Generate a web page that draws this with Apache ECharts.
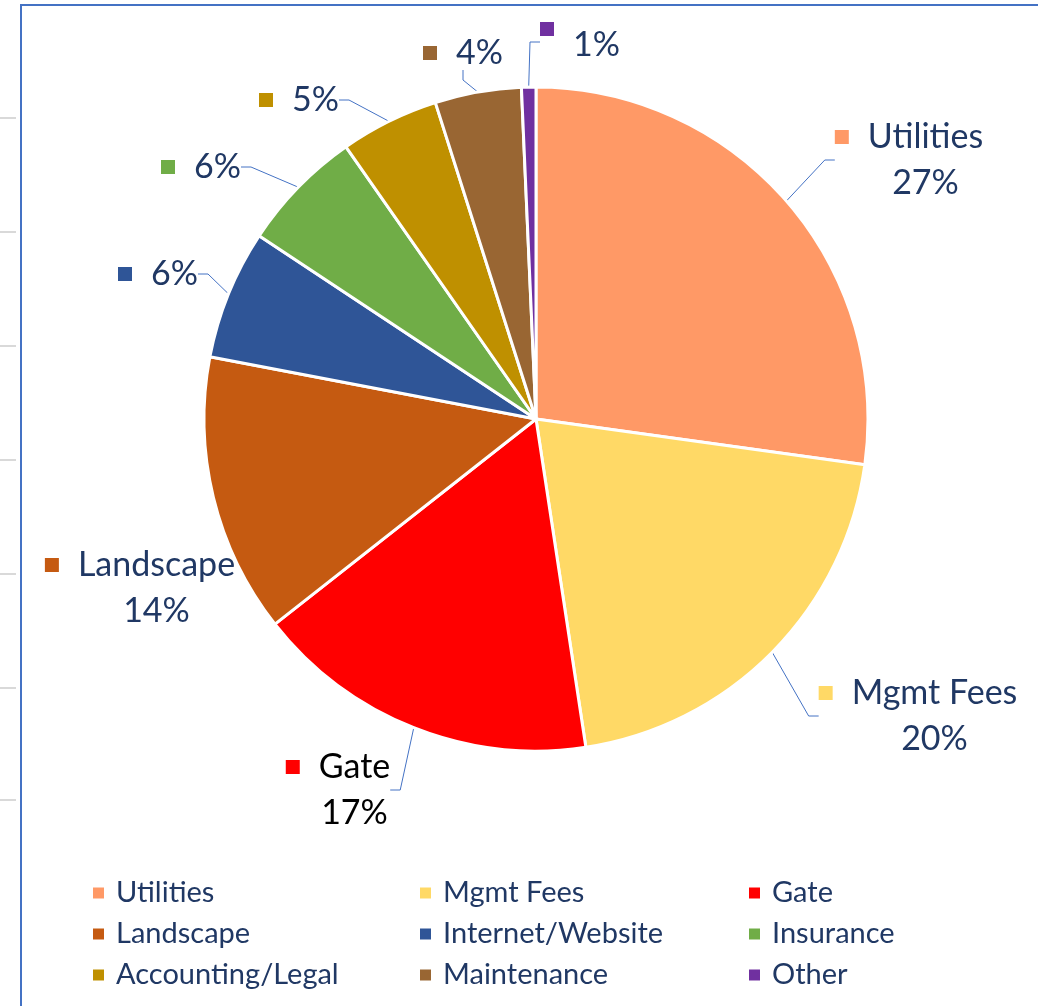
<!DOCTYPE html>
<html>
<head>
<meta charset="utf-8">
<script src="https://cdn.jsdelivr.net/npm/echarts@6/dist/echarts.min.js"></script>
<style>
  html, body { margin: 0; padding: 0; background: #fff; }
  #show { width: 1038px; height: 1006px; }
</style>
</head>
<body>
<div id="show"></div>
<script>
var myChart = echarts.init(document.getElementById("show"));

// data
var categories = ['Utilities', 'Mgmt Fees', 'Gate', 'Landscape', 'Internet/Website',
                  'Insurance', 'Accounting/Legal', 'Maintenance', 'Other'];
var shares = [27.2, 20.4, 16.8, 13.6, 6.3, 6.0, 4.8, 4.2, 0.7];
var colors = ['#FF9966', '#FFD966', '#FF0000', '#C55A11', '#2F5597',
              '#70AD47', '#BF9000', '#996633', '#7030A0'];
// which labels show the name, not only the percent
var showName = [true, true, true, true, false, false, false, false, false];

// label block centres (Excel placed them by hand)
var labelAnchors = [[909, 160], [918, 716], [338, 790], [140, 588], [158, 274],
                    [201, 167], [299, 100], [463, 53], [580, 45]];

var navy = '#203864';
var font = 'Lato, "Noto Sans", sans-serif';

var rich = { g: { width: 19 } };
colors.forEach(function (c, i) {
    var txt = i === 2 ? '#000000' : navy;
    rich['m' + i] = { width: 14, height: 14, backgroundColor: c };
    rich['n' + i] = { fontSize: 34, fontFamily: font, color: txt, lineHeight: 46 };
    rich['p' + i] = { fontSize: 34, fontFamily: font, color: txt, lineHeight: 46, padding: [0, 0, 0, 33] };
});
// the "Other" marker sits a bit higher than its text
rich.m8.verticalAlign = 'top';

var pieData = categories.map(function (name, i) {
    var d = { name: name, value: shares[i], itemStyle: { color: colors[i] } };
    if (name === 'Landscape') d.labelLine = { show: false };
    return d;
});

function legendColumn(c, left) {
    return {
        orient: 'vertical',
        left: left,
        top: 878,
        padding: 0,
        icon: 'rect',
        itemWidth: 13,
        itemHeight: 13,
        itemGap: 11,
        data: categories.filter(function (_, i) { return i % 3 === c; }),
        textStyle: {
            fontFamily: font,
            fontSize: 29,
            color: navy,
            lineHeight: 30,
            padding: [0, 0, 0, 6]
        },
        selectedMode: false
    };
}

var ticks = [118, 232, 346, 460, 574, 688, 800].map(function (y) {
    return { type: 'line', shape: { x1: 0, y1: y, x2: 16, y2: y },
             style: { stroke: '#D9D9D9', lineWidth: 2 }, silent: true };
});

myChart.setOption(option = {
    animation: false,
    legend: [legendColumn(0, 91), legendColumn(1, 418), legendColumn(2, 747)],
    graphic: ticks.concat([
        { type: 'polyline', shape: { points: [[21, 1006], [21, 5], [1038, 5]] },
          style: { stroke: '#4472C4', lineWidth: 2, fill: null }, silent: true }
    ]),
    series: [
        {
            type: 'pie',
            center: [536, 419],
            radius: 332,
            startAngle: 90,
            clockwise: true,
            data: pieData,
            itemStyle: {
                borderColor: '#ffffff',
                borderWidth: 3
            },
            label: {
                show: true,
                position: 'outside',
                overflow: 'none',
                rich: rich,
                formatter: function (p) {
                    var i = p.dataIndex;
                    var pct = Math.round(p.percent) + '%';
                    if (showName[i]) {
                        return '{m' + i + '| }{g| }{n' + i + '|' + p.name + '}\n{p' + i + '|' + pct + '}';
                    }
                    return '{m' + i + '| }{g| }{n' + i + '|' + pct + '}';
                }
            },
            labelLine: {
                show: true,
                length: 20,
                length2: 10,
                lineStyle: { color: '#4472C4', width: 1 }
            },
            labelLayout: function (params) {
                var a = labelAnchors[params.dataIndex];
                return { x: a[0], y: a[1], align: 'center', verticalAlign: 'middle' };
            }
        }
    ]
});
</script>
</body>
</html>
